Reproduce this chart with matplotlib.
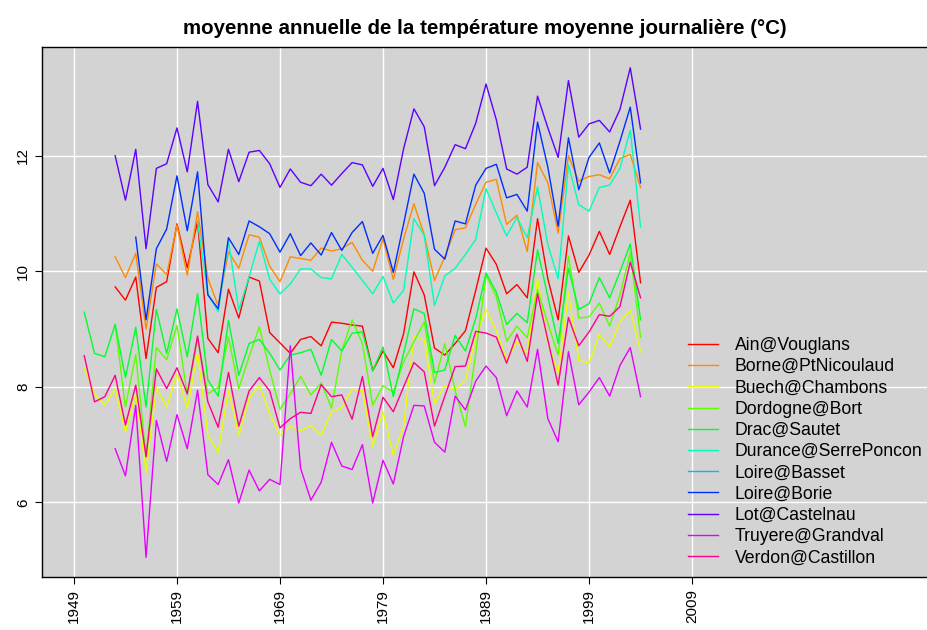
import numpy as np
import matplotlib
matplotlib.use("Agg")
import matplotlib.pyplot as plt

plt.rcParams['font.family'] = ['Liberation Sans', 'DejaVu Sans']

# annual mean of daily mean temperature, per station
years = list(range(1950, 2005))

ain = [9.73, 9.50, 9.90, 8.49, 9.72, 9.82, 10.82, 10.06, 10.86, 8.84,
       8.59, 9.69, 9.19, 9.90, 9.83, 8.94, 8.76, 8.58, 8.82, 8.87,
       8.71, 9.12, 9.10, 9.07, 9.05, 8.28, 8.62, 8.33, 8.92, 9.99,
       9.59, 8.67, 8.55, 8.75, 8.97, 9.67, 10.40, 10.12, 9.61, 9.77,
       9.54, 10.91, 9.87, 9.16, 10.61, 9.98, 10.28, 10.69, 10.29, 10.77,
       11.23, 9.80]  # 1953-2004
borne = [10.25, 9.89, 10.31, 9.00, 10.13, 9.94, 10.80, 9.93, 11.03, 9.88,
         9.40, 10.34, 10.05, 10.63, 10.59, 10.09, 9.82, 10.25, 10.22, 10.19,
         10.40, 10.35, 10.39, 10.50, 10.19, 10.00, 10.56, 9.86, 10.56, 11.17,
         10.63, 9.84, 10.25, 10.72, 10.75, 11.16, 11.54, 11.59, 10.81, 10.97,
         10.34, 11.88, 11.53, 10.66, 12.00, 11.56, 11.64, 11.67, 11.60, 11.95,
         12.02, 11.45]  # 1953-2004
buech = [8.33, 7.88, 7.68, 7.97, 7.22, 7.88, 6.53, 7.99, 7.65, 8.23,
         7.63, 8.59, 7.16, 6.86, 7.95, 7.16, 7.80, 8.03, 7.54, 7.16,
         7.32, 7.24, 7.33, 7.16, 7.57, 7.64, 7.96, 7.93, 6.97, 7.57,
         6.82, 7.31, 8.88, 8.81, 7.71, 8.02, 7.95, 8.11, 8.86, 9.34,
         8.97, 8.46, 8.78, 8.59, 9.88, 8.75, 8.24, 9.63, 8.46, 8.41,
         8.91, 8.69, 9.12, 9.33, 8.61]  # 1950-2004
dordogne = [9.08, 7.65, 8.56, 6.79, 8.68, 8.47, 9.06,
            7.86, 8.85, 7.88, 7.99, 8.86, 7.97, 8.52, 9.04, 8.29, 7.61,
            7.88, 8.18, 7.86, 8.07, 7.63, 8.63, 9.16, 8.75, 7.68, 8.02,
            7.91, 8.43, 8.78, 9.12, 8.07, 8.75, 7.94, 7.31, 8.58, 9.93,
            9.56, 8.79, 9.05, 8.85, 9.68, 9.10, 8.55, 10.26, 9.19, 9.21,
            9.45, 9.05, 9.59, 10.32, 8.86]  # 1953-2004
drac = [9.29, 8.58, 8.52, 9.08, 8.16, 9.03, 7.65, 9.34, 8.58, 9.35,
        8.52, 9.61, 8.12, 7.84, 9.15, 8.20, 8.75, 8.82, 8.58, 8.29,
        8.55, 8.59, 8.65, 8.20, 8.82, 8.62, 8.93, 8.95, 8.28, 8.69,
        7.83, 8.58, 9.35, 9.27, 8.25, 8.29, 8.89, 8.62, 9.18, 9.97,
        9.64, 9.08, 9.27, 9.11, 10.37, 9.56, 8.75, 10.05, 9.34, 9.44,
        9.89, 9.54, 9.99, 10.47, 9.16]  # 1950-2004
durance = [10.85, 9.61, 9.30, 10.52, 9.33, 9.90, 10.52, 9.86, 9.61,
           9.78, 10.04, 10.04, 9.89, 9.87, 10.29, 10.07, 9.84, 9.61, 9.91,
           9.45, 9.67, 10.91, 10.62, 9.41, 9.92, 10.05, 10.29, 10.55, 11.43,
           11.01, 10.61, 10.93, 10.58, 11.46, 10.46, 9.87, 11.84, 11.15, 11.04,
           11.45, 11.49, 11.78, 12.44, 10.77]  # 1961-2004
borie = [10.59, 9.16, 10.39, 10.73, 11.65,
         10.70, 11.72, 9.59, 9.35, 10.58, 10.29, 10.87, 10.77, 10.65, 10.33,
         10.65, 10.27, 10.49, 10.28, 10.67, 10.36, 10.67, 10.86, 10.31, 10.62,
         9.98, 10.82, 11.68, 11.35, 10.38, 10.21, 10.87, 10.82, 11.49, 11.78,
         11.85, 11.27, 11.33, 11.04, 12.58, 11.80, 10.78, 12.31, 11.41, 11.97,
         12.22, 11.70, 12.25, 12.84, 11.53]  # 1955-2004
basset = [np.nan] * 55  # no visible values
lot = [12.00, 11.23, 12.11, 10.39, 11.78, 11.86, 12.48,
       11.72, 12.94, 11.50, 11.20, 12.11, 11.55, 12.06, 12.09, 11.86, 11.45,
       11.77, 11.54, 11.48, 11.68, 11.49, 11.69, 11.88, 11.84, 11.47, 11.78,
       11.24, 12.12, 12.81, 12.50, 11.48, 11.80, 12.19, 12.12, 12.56, 13.24,
       12.62, 11.77, 11.68, 11.80, 13.03, 12.48, 11.97, 13.30, 12.32, 12.55,
       12.61, 12.41, 12.80, 13.52, 12.46]  # 1953-2004
truyere = [6.93, 6.46, 7.68, 5.05, 7.42, 6.71, 7.52,
           6.93, 7.94, 6.48, 6.31, 6.74, 5.99, 6.56, 6.20, 6.40, 6.31,
           8.71, 6.59, 6.04, 6.35, 7.04, 6.63, 6.57, 7.00, 5.99, 6.73,
           6.32, 7.14, 7.68, 7.67, 7.04, 6.87, 7.84, 7.60, 8.10, 8.36,
           8.16, 7.50, 7.93, 7.65, 8.65, 7.45, 7.05, 8.61, 7.69, 7.91,
           8.16, 7.84, 8.37, 8.68, 7.83]  # 1953-2004
verdon = [8.54, 7.74, 7.83, 8.20, 7.34, 8.03, 6.79, 8.31, 7.97, 8.33,
          7.88, 8.88, 7.74, 7.30, 8.25, 7.32, 7.93, 8.16, 7.93, 7.29,
          7.45, 7.56, 7.54, 8.04, 7.83, 7.86, 7.44, 8.18, 7.14, 7.82,
          7.57, 8.00, 8.42, 8.26, 7.32, 7.84, 8.35, 8.36, 8.96, 8.93,
          8.86, 8.41, 8.91, 8.44, 9.61, 8.81, 8.03, 9.20, 8.71, 8.95,
          9.25, 9.22, 9.39, 10.16, 9.54]  # 1950-2004

stations = ['Ain@Vouglans', 'Borne@PtNicoulaud', 'Buech@Chambons',
            'Dordogne@Bort', 'Drac@Sautet', 'Durance@SerrePoncon',
            'Loire@Basset', 'Loire@Borie', 'Lot@Castelnau',
            'Truyere@Grandval', 'Verdon@Castillon']
series = [ain, borne, buech, dordogne, drac, durance, basset, borie, lot,
          truyere, verdon]
# same as R rainbow(11)
colors = ['#FF0000', '#FF8B00', '#E8FF00', '#5DFF00', '#00FF2E', '#00FFB9',
          '#00B9FF', '#002EFF', '#5D00FF', '#E800FF', '#FF008B']

xticks = list(range(1949, 2010, 10))
yticks = [6, 8, 10, 12]

W, H = 928, 630
fig = plt.figure(figsize=(W / 100, H / 100), dpi=100)
ax = fig.add_axes([42 / W, 1 - 577 / H, (W - 42) / W, (577 - 47) / H])
ax.set_facecolor('lightgrey')

for name, vals, col in zip(stations, series, colors):
    # series are stored without leading gaps, pad them to the year axis
    y = [np.nan] * (len(years) - len(vals)) + list(vals)
    ax.plot(years, y, color=col, lw=1.0, label=name)

ax.set_xlim(1945.9, 2031.9)
ax.set_ylim(4.71, 13.88)
ax.set_xticks(xticks)
ax.set_xticklabels([str(t) for t in xticks], rotation=90, fontsize=11)
ax.set_yticks(yticks)
ax.set_yticklabels([str(t) for t in yticks], rotation=90, va='center', fontsize=11)
ax.tick_params(direction='out', length=5, width=0.8, color='black')
ax.set_axisbelow(True)
ax.grid(color='white', lw=1.0)
ax.spines['right'].set_visible(False)
for s in ['left', 'bottom', 'top']:
    ax.spines[s].set_linewidth(1.0)

fig.text(485 / W, 1 - 28 / H,
         'moyenne annuelle de la température moyenne journalière (°C)',
         ha='center', va='center', fontsize=14.8, fontweight='bold')

ax.legend(loc='upper left', bbox_to_anchor=(688 / W, 1 - 337 / H),
          bbox_transform=fig.transFigure, frameon=False, fontsize=12.7,
          handlelength=1.7, handletextpad=0.95, labelspacing=0.24,
          borderpad=0, borderaxespad=0)

fig.savefig('out.png', dpi=100)
